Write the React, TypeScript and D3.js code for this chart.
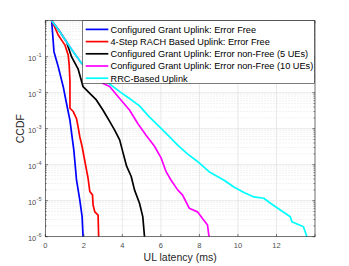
import React from "react";
import * as d3 from "d3";

const W = 349, H = 266;
const M = { left: 45.3, right: 315, top: 20.7, bottom: 236.7 };

const seriesNames = [
  "Configured Grant Uplink: Error Free",
  "4-Step RACH Based Uplink: Error Free",
  "Configured Grant Uplink: Error non-Free (5 UEs)",
  "Configured Grant Uplink: Error non-Free (10 UEs)",
  "RRC-Based Uplink",
];
const seriesColors = ["#0000ff", "#ff0000", "#000000", "#ff00ff", "#00ffff"];

const cgFreeX = [0.33, 0.45, 0.67, 0.93, 1.1, 1.28, 1.41, 1.48, 1.62, 1.79, 1.91, 1.96];
const cgFreeY = [1, 0.138, 0.053, 0.0147, 0.0051, 1.7e-3, 4.9e-4, 2.6e-4, 3.8e-5, 1.05e-5, 3.6e-6, 1e-6];

const rachX = [0.33, 0.38, 0.67, 1.02, 1.19, 1.24, 1.28, 1.28, 1.45, 1.62, 1.7, 1.79, 1.91, 2.01, 2.14, 2.22, 2.31, 2.45, 2.48, 2.57, 2.74, 2.77];
const rachY = [1, 0.89, 0.4, 0.21, 0.11, 0.059, 0.02, 0.0037, 0.003, 0.0019, 0.00114, 6e-4, 3.2e-4, 1.66e-4, 7.1e-5, 4.2e-5, 1.8e-5, 1.45e-5, 7.6e-6, 4.9e-6, 4e-6, 1e-6];

const cg5X = [0.33, 0.76, 1.1, 1.36, 1.7, 1.96, 2.31, 2.65, 2.99, 3.34, 3.6, 3.86, 4.03, 4.22, 4.46, 4.63, 4.89, 5.06, 5.15];
const cg5Y = [1, 0.49, 0.26, 0.1, 0.046, 0.0147, 0.0096, 0.0063, 0.0033, 0.0016, 9.1e-4, 4.9e-4, 2.2e-4, 9.1e-5, 4.7e-5, 2e-5, 8.5e-6, 3.6e-6, 1e-6];

const cg10X = [0.33, 0.76, 1.1, 1.45, 1.88, 3.0, 3.34, 3.86, 4.37, 4.8, 5.23, 5.66, 6.01, 6.27, 6.53, 6.87, 7.12, 7.21, 7.47, 7.9, 8.16, 8.42, 8.5];
const cg10Y = [1, 0.49, 0.26, 0.138, 0.066, 0.018, 0.0148, 0.0069, 0.0033, 0.0014, 6.6e-4, 3.3e-4, 1.55e-4, 6.4e-5, 3.7e-5, 2e-5, 1.45e-5, 1.17e-5, 6.2e-6, 4.9e-6, 3.2e-6, 2.1e-6, 1e-6];

const rrcX = [0.33, 0.76, 1.1, 1.45, 1.88, 3.34, 3.86, 4.37, 4.89, 5.41, 5.92, 6.44, 6.87, 7.38, 7.9, 8.5, 9.28, 9.79, 10.31, 10.83, 11.34, 11.69, 12.2, 12.72, 12.8, 13.4, 13.58];
const rrcY = [1, 0.49, 0.26, 0.138, 0.066, 0.0174, 0.0107, 0.0069, 0.0043, 0.0021, 0.00114, 6e-4, 3.5e-4, 2e-4, 1.23e-4, 6.4e-5, 3.7e-5, 2.4e-5, 1.7e-5, 1.27e-5, 1.17e-5, 8.5e-6, 5.5e-6, 3.6e-6, 2.6e-6, 1.9e-6, 1e-6];

const seriesX = [cgFreeX, rachX, cg5X, cg10X, rrcX];
const seriesY = [cgFreeY, rachY, cg5Y, cg10Y, rrcY];

const xTicks = [0, 2, 4, 6, 8, 10, 12];
const yTickExps = [-6, -5, -4, -3, -2, -1];

export default function App() {
  const x = d3.scaleLinear().domain([0, 14]).range([M.left, M.right]);
  const y = d3.scaleLog().domain([1e-6, 1]).range([M.bottom, M.top]);
  const line = d3.line<[number, number]>().x((d) => x(d[0])).y((d) => y(d[1]));

  const minorY: number[] = [];
  for (let e = -6; e < 0; e++) for (let k = 2; k <= 9; k++) minorY.push(k * Math.pow(10, e));
  const majorY = [-6, -5, -4, -3, -2, -1, 0].map((e) => Math.pow(10, e));
  const xGrid = [0, 2, 4, 6, 8, 10, 12, 14];

  const axisColor = "#262626";
  const tickLen = 2.7;
  const legX = 82.7, legY = 20.7, legW = 231.6, legH = 62.6;
  const rowH = 12.2;

  return (
    <svg width={W} height={H} style={{ position: "absolute", left: 0, top: 0 }} fontFamily="'Liberation Sans', Arial, sans-serif">
      <rect x={0} y={0} width={W} height={H} fill="#fff" />
      <rect x={M.left} y={M.top} width={M.right - M.left} height={M.bottom - M.top} fill="#fff" />
      {minorY.map((v, i) => (
        <line key={"mg" + i} x1={M.left} x2={M.right} y1={y(v)} y2={y(v)} stroke="#e3e3e3" strokeWidth={0.6} strokeDasharray="1.5,1.5" />
      ))}
      {majorY.map((v, i) => (
        <line key={"Mg" + i} x1={M.left} x2={M.right} y1={y(v)} y2={y(v)} stroke="#e0e0e0" strokeWidth={0.7} />
      ))}
      {xGrid.map((v, i) => (
        <line key={"xg" + i} x1={x(v)} x2={x(v)} y1={M.top} y2={M.bottom} stroke="#e0e0e0" strokeWidth={0.7} />
      ))}
      {seriesX.map((xs, si) => (
        <path
          key={"s" + si}
          d={line(xs.map((xv, i) => [xv, seriesY[si][i]] as [number, number])) || ""}
          fill="none"
          stroke={seriesColors[si]}
          strokeWidth={1.7}
          strokeLinejoin="round"
        />
      ))}
      <rect x={M.left} y={M.top} width={M.right - M.left} height={M.bottom - M.top} fill="none" stroke={axisColor} strokeWidth={0.6} />
      {xGrid.map((v, i) => (
        <g key={"xt" + i}>
          <line x1={x(v)} x2={x(v)} y1={M.bottom} y2={M.bottom - tickLen} stroke={axisColor} strokeWidth={0.6} />
          <line x1={x(v)} x2={x(v)} y1={M.top} y2={M.top + tickLen} stroke={axisColor} strokeWidth={0.6} />
        </g>
      ))}
      {xTicks.map((v, i) => (
        <text key={"xl" + i} x={x(v)} y={M.bottom + 11.3} fontSize={7.5} fill="#4d4d4d" textAnchor="middle">
          {v}
        </text>
      ))}
      {majorY.map((v, i) => (
        <g key={"yt" + i}>
          <line x1={M.left} x2={M.left + tickLen} y1={y(v)} y2={y(v)} stroke={axisColor} strokeWidth={0.6} />
          <line x1={M.right} x2={M.right - tickLen} y1={y(v)} y2={y(v)} stroke={axisColor} strokeWidth={0.6} />
        </g>
      ))}
      {minorY.map((v, i) => (
        <g key={"ymt" + i}>
          <line x1={M.left} x2={M.left + 1.5} y1={y(v)} y2={y(v)} stroke={axisColor} strokeWidth={0.5} />
          <line x1={M.right} x2={M.right - 1.5} y1={y(v)} y2={y(v)} stroke={axisColor} strokeWidth={0.5} />
        </g>
      ))}
      {yTickExps.map((e, i) => (
        <text key={"yl" + i} x={41.5} y={y(Math.pow(10, e)) + 3.8} fontSize={7.5} fill="#4d4d4d" textAnchor="end">
          10
          <tspan dy={-3.3} dx={0.3} fontSize={5.5}>
            {e}
          </tspan>
        </text>
      ))}
      <text x={(M.left + M.right) / 2} y={261} fontSize={10.5} fill="#262626" textAnchor="middle">
        UL latency (ms)
      </text>
      <text transform={`translate(24,${(M.top + M.bottom) / 2}) rotate(-90)`} fontSize={10.5} fill="#262626" textAnchor="middle">
        CCDF
      </text>
      <rect x={legX} y={legY} width={legW} height={legH} fill="#fff" stroke="#262626" strokeWidth={0.6} />
      {seriesNames.map((n, i) => (
        <g key={"lg" + i}>
          <line x1={85.7} x2={108.3} y1={29.4 + i * rowH} y2={29.4 + i * rowH} stroke={seriesColors[i]} strokeWidth={1.7} />
          <text x={110.5} y={29.4 + i * rowH + 3.3} fontSize={9.2} fill="#000">
            {n}
          </text>
        </g>
      ))}
    </svg>
  );
}
